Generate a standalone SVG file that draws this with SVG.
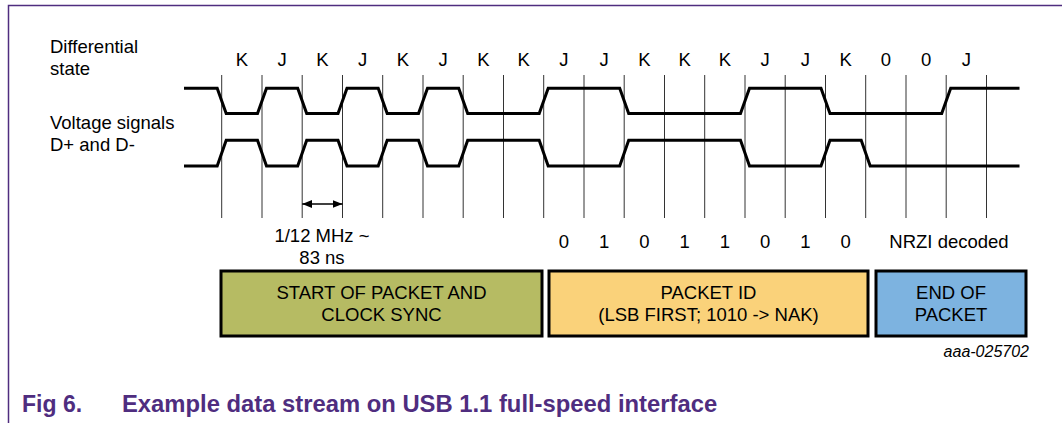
<svg xmlns="http://www.w3.org/2000/svg" width="1062" height="423" viewBox="0 0 1062 423">
<style>
.t{font-family:"Liberation Sans",Arial,sans-serif;font-size:18.5px;fill:#000}
.c{text-anchor:middle}
.grid{stroke:#333;stroke-width:1}
.wave{fill:none;stroke:#000;stroke-width:3;stroke-linejoin:miter}
.box{stroke:#000;stroke-width:3}
.cap{font-family:"Liberation Sans",Arial,sans-serif;font-weight:bold;font-size:23px;fill:#4f2d7f}
.capw{font-size:23.8px}
</style>
<defs>
<marker id="ah" viewBox="0 0 10 8" refX="10" refY="4" markerWidth="10" markerHeight="8" markerUnits="userSpaceOnUse" orient="auto-start-reverse">
<path d="M0,0 L10,4 L0,8 Z" fill="#000"/>
</marker>
</defs>
<rect width="1062" height="423" fill="#fff"/>
<path d="M8.5,423 V5.5 H1062" fill="none" stroke="#4f2d7f" stroke-width="1.5"/>

<g id="row-labels">
<text class="t" x="50" y="53">Differential</text>
<text class="t" x="50" y="75">state</text>
<text class="t" x="50" y="129">Voltage signals</text>
<text class="t" x="50" y="151">D+ and D-</text>
</g>

<g id="grid">
<path class="grid" d="M221.7,75V218M262,75V218M302.2,75V218M342.5,75V218M382.7,75V218M423,75V218M463.2,75V218M503.5,75V218M543.7,75V218M584,75V218M624.2,75V218M664.5,75V218M704.7,75V218M745,75V218M785.2,75V218M825.5,75V218M865.7,75V218M906,75V218M946.2,75V218M986.5,75V218"/>
</g>

<g id="states" class="t c">
<text x="241.8" y="66">K</text>
<text x="282.1" y="66">J</text>
<text x="322.3" y="66">K</text>
<text x="362.6" y="66">J</text>
<text x="402.8" y="66">K</text>
<text x="443.1" y="66">J</text>
<text x="483.3" y="66">K</text>
<text x="523.6" y="66">K</text>
<text x="563.8" y="66">J</text>
<text x="604.1" y="66">J</text>
<text x="644.3" y="66">K</text>
<text x="684.6" y="66">K</text>
<text x="724.8" y="66">K</text>
<text x="765.1" y="66">J</text>
<text x="805.3" y="66">J</text>
<text x="845.6" y="66">K</text>
<text x="885.8" y="66">0</text>
<text x="926.1" y="66">0</text>
<text x="966.3" y="66">J</text>
</g>

<g id="dplus">
<path class="wave" d="M184,88.3 L217.2,88.3 L226.2,113.5 L257.5,113.5 L266.5,88.3 L297.7,88.3 L306.7,113.5 L338,113.5 L347,88.3 L378.2,88.3 L387.2,113.5 L418.5,113.5 L427.5,88.3 L458.7,88.3 L467.7,113.5 L539.2,113.5 L548.2,88.3 L619.7,88.3 L628.7,113.5 L740.5,113.5 L749.5,88.3 L821,88.3 L830,113.5 L941.7,113.5 L950.7,88.3 L1019.5,88.3"/>
</g>
<g id="dminus">
<path class="wave" d="M184,166 L217.2,166 L226.2,140.3 L257.5,140.3 L266.5,166 L297.7,166 L306.7,140.3 L338,140.3 L347,166 L378.2,166 L387.2,140.3 L418.5,140.3 L427.5,166 L458.7,166 L467.7,140.3 L539.2,140.3 L548.2,166 L619.7,166 L628.7,140.3 L740.5,140.3 L749.5,166 L821,166 L830,140.3 L861.2,140.3 L870.2,166 L1019.5,166"/>
</g>

<g id="connectors">
<line x1="302.2" y1="204" x2="342.5" y2="204" stroke="#000" stroke-width="1.5" marker-start="url(#ah)" marker-end="url(#ah)"/>
</g>

<g id="period-label" class="t c">
<text x="322" y="242">1/12 MHz ~</text>
<text x="322" y="264">83 ns</text>
</g>

<g id="decoded" class="t c">
<text x="563.8" y="248">0</text>
<text x="604.1" y="248">1</text>
<text x="644.3" y="248">0</text>
<text x="684.6" y="248">1</text>
<text x="724.8" y="248">1</text>
<text x="765.1" y="248">0</text>
<text x="805.3" y="248">1</text>
<text x="845.6" y="248">0</text>
<text x="949" y="248">NRZI decoded</text>
</g>

<g id="sop">
<rect class="box" x="221" y="271" width="321" height="65" fill="#b6bb63"/>
<text class="t c" x="381.5" y="299">START OF PACKET AND</text>
<text class="t c" x="381.5" y="321">CLOCK SYNC</text>
</g>
<g id="pid">
<rect class="box" x="549" y="271" width="319" height="65" fill="#fad27a"/>
<text class="t c" x="708.5" y="299">PACKET ID</text>
<text class="t c" x="708.5" y="321">(LSB FIRST; 1010 -&gt; NAK)</text>
</g>
<g id="eop">
<rect class="box" x="876" y="271" width="150" height="65" fill="#7db3e0"/>
<text class="t c" x="951" y="299">END OF</text>
<text class="t c" x="951" y="321">PACKET</text>
</g>

<text x="1029" y="357" text-anchor="end" font-family="Liberation Sans, Arial, sans-serif" font-style="italic" font-size="16" fill="#000">aaa-025702</text>

<g id="caption">
<text class="cap" x="22" y="412">Fig 6.</text>
<text class="cap capw" x="122" y="412">Example data stream on USB 1.1 full-speed interface</text>
</g>
</svg>
